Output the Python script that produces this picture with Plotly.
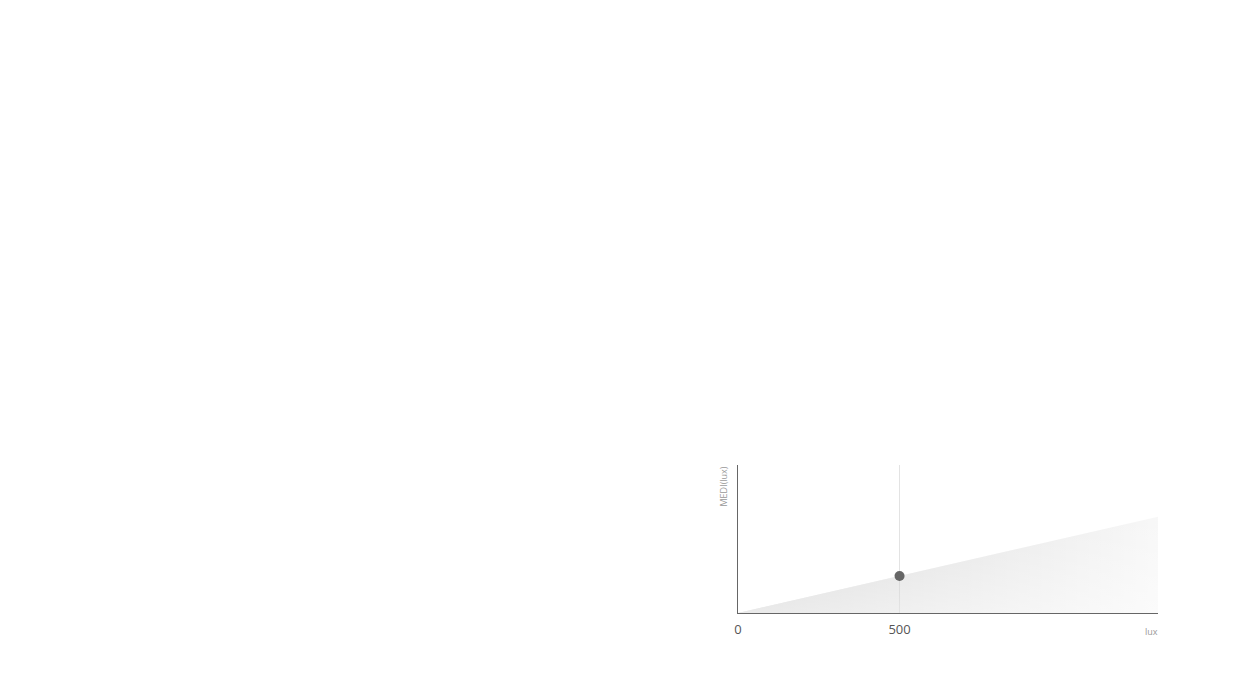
import plotly.graph_objects as go

# illuminance (lux) vs melanopic EDI (lux)
lux = [0, 1300]
medi = [0, 650]
point_lux = [500]
point_medi = [250]
x_ticks = [0, 500]
x_tick_text = ["0", "500"]

fig = go.Figure()

# shaded area under the line, fading out to the right
# (translucent so the 500 gridline still shows through)
fig.add_trace(go.Scatter(
    x=lux, y=medi, mode="lines", line={"width": 0},
    fill="tozeroy",
    fillgradient={"type": "horizontal",
                  "colorscale": [[0, "rgba(0,0,0,0.17)"],
                                 [1, "rgba(0,0,0,0.03)"]]},
    hoverinfo="skip", showlegend=False,
))
# white veil, stronger toward the bottom
fig.add_trace(go.Scatter(
    x=lux, y=medi, mode="lines", line={"width": 0},
    fill="tozeroy",
    fillgradient={"type": "vertical",
                  "colorscale": [[0, "rgba(255,255,255,0.5)"],
                                 [1, "rgba(255,255,255,0)"]]},
    hoverinfo="skip", showlegend=False,
))
fig.add_trace(go.Scatter(
    x=point_lux, y=point_medi, mode="markers",
    marker={"size": 10, "color": "#666666"},
    showlegend=False,
))

fig.update_layout(
    width=1240, height=700,
    margin={"l": 730, "r": 90, "t": 457, "b": 95},
    paper_bgcolor="white", plot_bgcolor="white",
    font={"family": "Open Sans", "color": "#555555"},
    xaxis={
        "range": [0, 1300], "tickvals": x_ticks, "ticktext": x_tick_text,
        "showgrid": True, "gridcolor": "#e3e3e3", "gridwidth": 1,
        "showline": True, "linecolor": "#666666", "linewidth": 1,
        "zeroline": False, "ticks": "", "ticklabelstandoff": 4,
        "tickfont": {"size": 13, "color": "#555555"},
    },
    yaxis={
        "range": [0, 1000], "showgrid": False, "showticklabels": False,
        "showline": True, "linecolor": "#666666", "linewidth": 1,
        "zeroline": False, "ticks": "",
    },
    annotations=[
        {"text": "MEDI(lux)", "xref": "x domain", "yref": "y domain",
         "x": 0, "y": 1, "xanchor": "right", "yanchor": "top",
         "xshift": -7, "textangle": -90, "showarrow": False,
         "font": {"size": 9, "color": "#999999"}},
        {"text": "lux", "xref": "x domain", "yref": "y domain",
         "x": 1, "y": 0, "xanchor": "right", "yanchor": "top",
         "xshift": 2, "yshift": -10, "showarrow": False,
         "font": {"size": 9, "color": "#999999"}},
    ],
)

fig.write_html("out.html")
